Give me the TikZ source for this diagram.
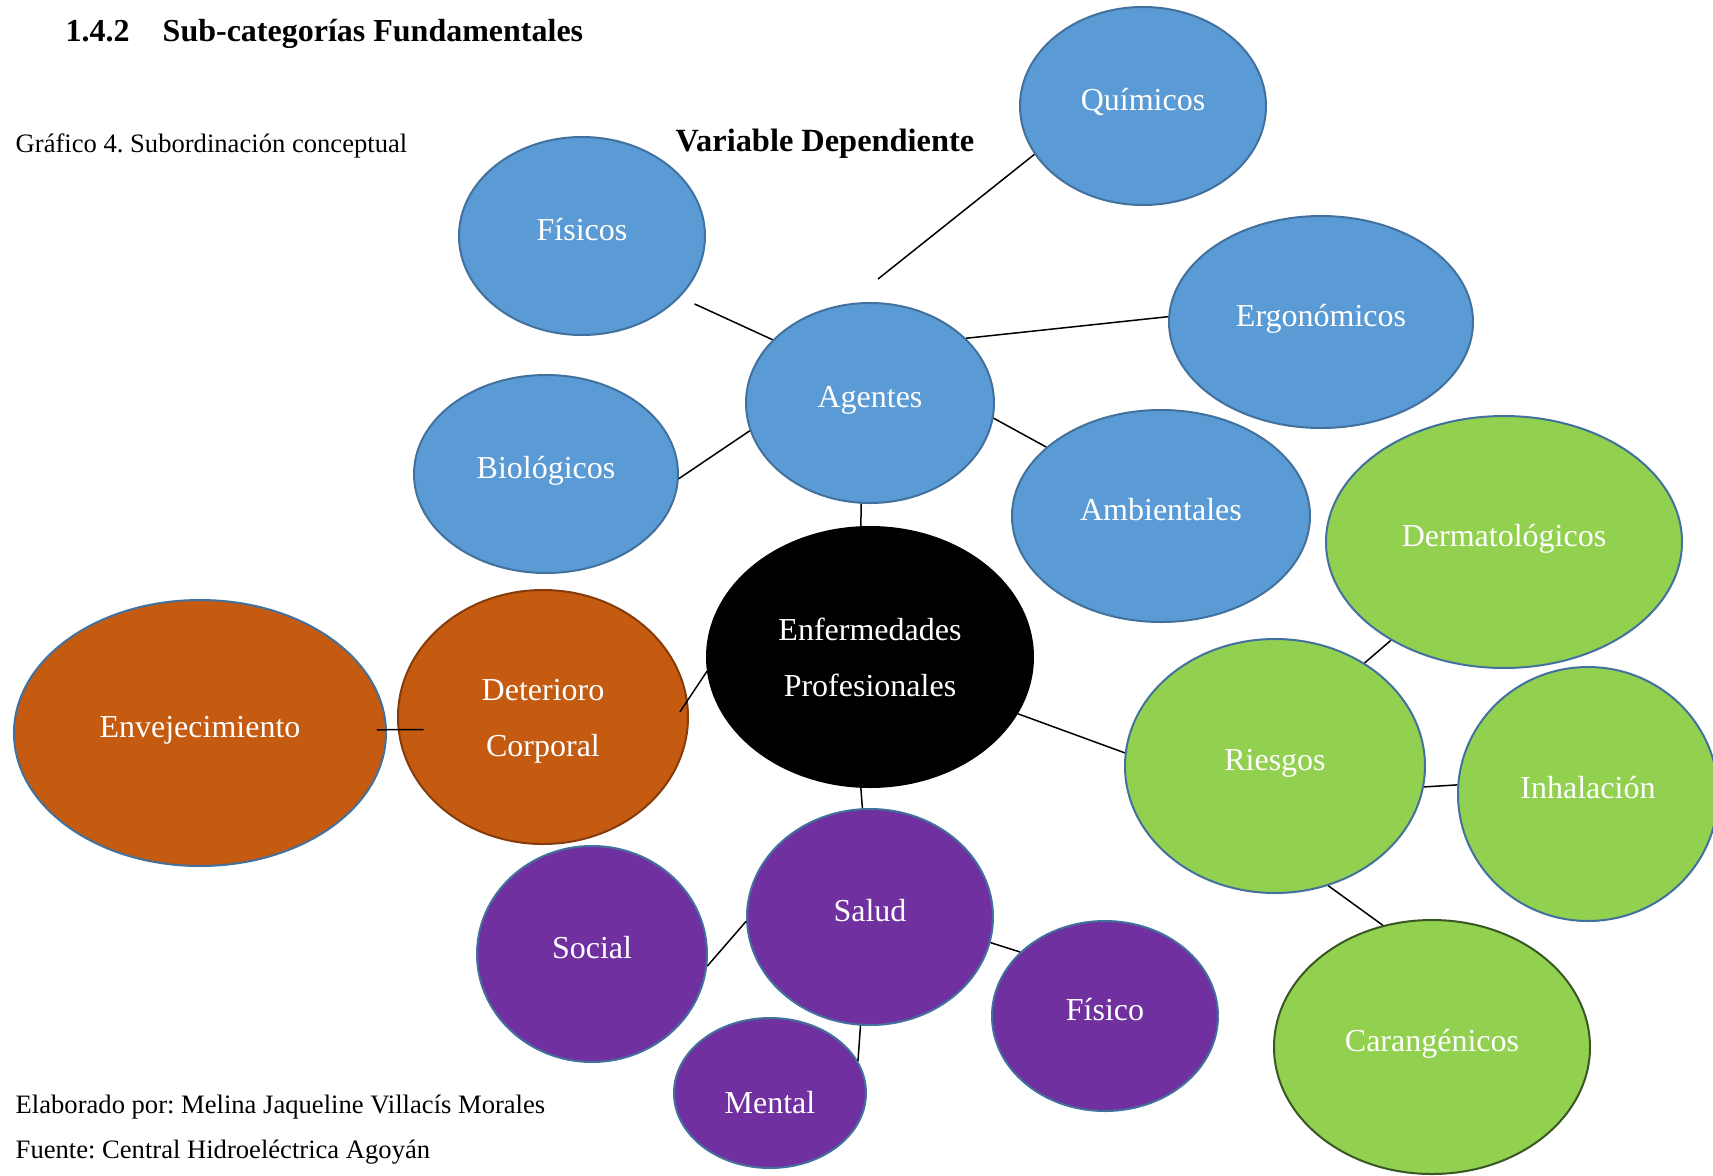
\documentclass[tikz,border=0pt]{standalone}
\usepackage{fontspec}
\setmainfont{Liberation Serif}
\usepackage{tikz}
\usetikzlibrary{shapes.geometric}
\usetikzlibrary{positioning}
\frenchspacing

\definecolor{azul}{HTML}{5B9BD5}
\definecolor{azulborde}{HTML}{41719C}
\definecolor{verde}{HTML}{92D050}
\definecolor{verdeborde}{HTML}{385723}
\definecolor{naranja}{HTML}{C55A11}
\definecolor{naranjaborde}{HTML}{843C0C}
\definecolor{morado}{HTML}{7030A0}

\tikzset{
  bubble/.style={ellipse,draw=azulborde,line width=1pt,inner sep=0pt,text=white,
    align=center,font=\fontsize{16}{28}\selectfont},
  oneline/.style={text height=12pt,text depth=8pt},
  agente/.style={bubble,oneline,fill=azul},
  riesgo/.style={bubble,oneline,fill=verde},
  deterioro/.style={bubble,fill=naranja},
  salud/.style={bubble,oneline,fill=morado},
  plain/.style={inner sep=0pt,anchor=west,font=\fontsize{13.3}{15}\selectfont}
}

\begin{document}
\begin{tikzpicture}[-,line width=0.75pt,node distance=4cm,on grid]
        \useasboundingbox (-435pt,328.5pt) rectangle (421.5pt,-259pt);
        \node[bubble,fill=black,draw=black,minimum width=163pt,minimum height=130pt] (enf) at (0,0) {Enfermedades\\Profesionales};
        % agentes
        \node[agente,minimum width=124pt,minimum height=100pt] (agentes) [above=127pt of enf] {Agentes};
        \node[agente,minimum width=123pt,minimum height=99pt] (quimicos) [above right=148.5pt and 136.5pt of agentes] {Químicos};
        \node[agente,minimum width=123pt,minimum height=99pt] (fisicos) [above left=83.5pt and 144pt of agentes] {Físicos};
        \node[agente,minimum width=152pt,minimum height=106pt] (ergonomicos) [above right=40.5pt and 225.5pt of agentes] {Ergonómicos};
        \node[agente,minimum width=132pt,minimum height=99pt] (biologicos) [below left=35.5pt and 162pt of agentes] {Biológicos};
        \node[agente,minimum width=149pt,minimum height=106pt] (ambientales) [below right=56.5pt and 145.5pt of agentes] {Ambientales};
        % riesgos
        \node[riesgo,minimum width=150pt,minimum height=127pt] (riesgos) [below right=54.5pt and 202.5pt of enf] {Riesgos};
        \node[riesgo,minimum width=178pt,minimum height=126pt] (dermatologicos) [above right=112pt and 114.5pt of riesgos] {Dermatológicos};
        \node[riesgo,minimum width=130pt,minimum height=127pt] (inhalacion) [below right=14pt and 156.5pt of riesgos] {Inhalación};
        \node[riesgo,draw=verdeborde,minimum width=158pt,minimum height=127pt] (carangenicos) [below right=140.5pt and 78.5pt of riesgos] {Carangénicos};
        % deterioro
        \node[deterioro,draw=naranjaborde,minimum width=145pt,minimum height=127pt] (deterioro) [below left=30pt and 163.5pt of enf] {\rule{0pt}{15pt}Deterioro\\Corporal};
        \node[deterioro,oneline,minimum width=186pt,minimum height=133pt] (envejecimiento) [below left=8pt and 171.5pt of deterioro] {Envejecimiento};
        % salud
        \node[salud,minimum width=123pt,minimum height=108pt] (salud) [below=130pt of enf] {Salud};
        \node[salud,minimum width=115pt,minimum height=108pt] (social) [below left=18.5pt and 139pt of salud] {Social};
        \node[salud,minimum width=113pt,minimum height=95pt] (fisico) [below right=49.5pt and 117.5pt of salud] {Físico};
        \node[salud,text height=28pt,minimum width=96pt,minimum height=75pt] (mental) [below left=88pt and 50pt of salud] {Mental};
        \coordinate[above right=11.5pt and 4pt of agentes.north] (qend);

        \path   (quimicos.204) edge (qend)
                (agentes.147) edge [shorten >=8pt] (fisicos.328)
                (agentes.34) edge (ergonomicos.178)
                (agentes.193) edge (biologicos.358)
                (agentes.353) edge (ambientales.149)
                (agentes.265) edge (enf.94)
                (enf.185) edge ([xshift=-4.5pt]deterioro.2)
                (envejecimiento.1) edge [shorten <=-5pt,shorten >=-13pt] (deterioro.185)
                (enf.339) edge (riesgos.175)
                (riesgos.49) edge (dermatologicos.221)
                (riesgos.352) edge (inhalacion.176)
                (riesgos.294) edge (carangenicos.112)
                (enf.266.5) edge (salud.94)
                (salud.182) edge (social.354)
                (salud.348) edge (fisico.143)
                (salud.265) edge (mental.20);

        \node[plain,font=\bfseries\fontsize{16}{18}\selectfont] (titulo) at (-402.5pt,311.5pt) {1.4.2\hspace{16.5pt}Sub-categorías Fundamentales};
        \node[plain] (grafico) at (-427.5pt,255.4pt) {Gráfico 4. Subordinación conceptual};
        \node[plain,anchor=center,font=\bfseries\fontsize{16.2}{18}\selectfont] (variable) at (-22.5pt,256.5pt) {Variable Dependiente};
        \node[plain] (elaborado) at (-427.5pt,-225pt) {Elaborado por: Melina Jaqueline Villacís Morales};
        \node[plain] (fuente) at (-427.5pt,-247.6pt) {Fuente: Central Hidroeléctrica Agoyán};
\end{tikzpicture}
\end{document}
